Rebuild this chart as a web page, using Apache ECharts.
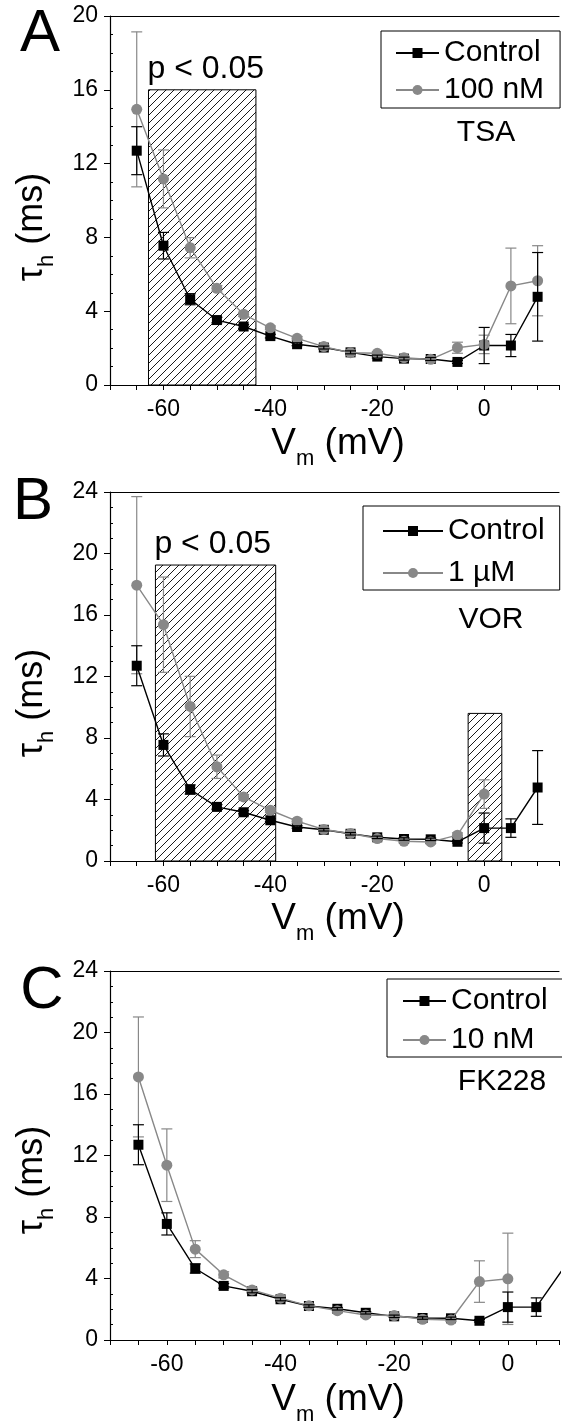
<!DOCTYPE html>
<html>
<head>
<meta charset="UTF-8">
<title>tau_h vs Vm</title>
<script src="https://cdn.jsdelivr.net/npm/echarts@6/dist/echarts.min.js"></script>
<style>
  html, body { margin: 0; padding: 0; background: #fff; }
  #main { width: 562px; height: 1426px; }
</style>
</head>
<body>
<div id="main"></div>
<script>
// membrane potential steps (mV)
const voltage = [-65, -60, -55, -50, -45, -40, -35, -30, -25, -20, -15, -10, -5, 0, 5, 10];
// control tau_h (ms), same cells in every panel
const control = [12.7, 7.55, 4.65, 3.52, 3.17, 2.65, 2.21, 2.03, 1.77, 1.54, 1.43, 1.41, 1.25, 2.14, 2.14, 4.78];
const controlErr = [1.3, 0.72, 0.3, 0.15, 0.1, 0.1, 0.08, 0.08, 0.08, 0.08, 0.08, 0.08, 0.08, 0.98, 0.6, 2.4];
// 100 nM TSA
const tsa = [14.94, 11.17, 7.44, 5.24, 3.83, 3.1, 2.53, 2.08, 1.75, 1.72, 1.48, 1.39, 2.02, 2.2, 5.37, 5.65];
const tsaErr = [4.2, 1.57, 0.55, 0.15, 0.12, 0.1, 0.1, 0.08, 0.08, 0.08, 0.08, 0.08, 0.3, 0.5, 2.05, 1.9];
// 1 uM VOR (no data above 0 mV)
const vor = [17.94, 15.37, 10.05, 6.13, 4.17, 3.3, 2.59, 2.05, 1.79, 1.46, 1.28, 1.24, 1.68, 4.35];
const vorErr = [5.76, 3.1, 1.96, 0.76, 0.15, 0.15, 0.15, 0.1, 0.1, 0.1, 0.1, 0.1, 0.15, 0.93];
// 10 nM FK228
const fk = [17.11, 11.37, 5.91, 4.24, 3.26, 2.72, 2.22, 1.91, 1.63, 1.59, 1.35, 1.3, 3.8, 3.98];
const fkErr = [3.9, 2.36, 0.55, 0.2, 0.1, 0.1, 0.1, 0.1, 0.1, 0.1, 0.1, 0.1, 1.35, 2.97];
// significance regions: [from mV, to mV, height ms, label]
const sigA = [[-62.8, -42.7, 16, 'p < 0.05']];
const sigB = [[-61.5, -39, 19.25, 'p < 0.05'], [-3, 3.3, 9.6, '']];
const sigC = [];

const FONT = "'Liberation Sans', Arial, Helvetica, sans-serif";
const GREY = '#888888';

const panels = [
  { letter: 'A', letterPos: [40, 34], top: 16, ymax: 20, xmax: 14, treat: tsa, treatErr: tsaErr, name: '100 nM', drug: 'TSA', drugPos: [486, 133],
    sig: sigA, legend: { left: 381, top: 31, itemWidth: 43, itemGap: 7, padding: [7, 16, 3, 14] }, xTitleY: 444, yTitleY: 227 },
  { letter: 'B', letterPos: [33, 502], top: 492, ymax: 24, xmax: 14, treat: vor, treatErr: vorErr, name: '1 \u00b5M', drug: 'VOR', drugPos: [491, 620],
    sig: sigB, legend: { left: 363, top: 506, itemWidth: 60, itemGap: 12, padding: [10, 15, 2, 19] }, xTitleY: 919, yTitleY: 703 },
  { letter: 'C', letterPos: [42, 991], top: 971, ymax: 24, xmax: 9, treat: fk, treatErr: fkErr, name: '10 nM', drug: 'FK228', drugPos: [502, 1082],
    sig: sigC, legend: { left: 387, top: 979, itemWidth: 43, itemGap: 9, padding: [7, 15, 2, 15] }, xTitleY: 1400, yTitleY: 1180 }
];

function hatchPattern() {
  const c = document.createElement('canvas');
  c.width = 8; c.height = 8;
  const g = c.getContext('2d');
  g.strokeStyle = '#000';
  g.lineWidth = 0.9;
  g.beginPath();
  g.moveTo(-1, 9); g.lineTo(9, -1);
  g.moveTo(-1, 1); g.lineTo(1, -1);
  g.moveTo(7, 9); g.lineTo(9, 7);
  g.stroke();
  return c;
}
const hatch = hatchPattern();

function errorBars(color) {
  return function (params, api) {
    const x = api.value(0), y = api.value(1), e = api.value(2);
    const hi = api.coord([x, y + e]);
    const lo = api.coord([x, y - e]);
    const w = 5.5;
    const st = () => ({ stroke: color, lineWidth: 1.2 });
    return {
      type: 'group',
      children: [
        { type: 'line', shape: { x1: hi[0], y1: hi[1], x2: lo[0], y2: lo[1] }, style: st() },
        { type: 'line', shape: { x1: hi[0] - w, y1: hi[1], x2: hi[0] + w, y2: hi[1] }, style: st() },
        { type: 'line', shape: { x1: lo[0] - w, y1: lo[1], x2: lo[0] + w, y2: lo[1] }, style: st() }
      ]
    };
  };
}

function hatchRects(sig) {
  return function (params, api) {
    const p0 = api.coord([api.value(0), api.value(2)]);
    const p1 = api.coord([api.value(1), 0]);
    const label = sig[params.dataIndex][3];
    return {
      type: 'group',
      children: [
        { type: 'rect', shape: { x: p0[0], y: p0[1], width: p1[0] - p0[0], height: p1[1] - p0[1] },
          style: { fill: { image: hatch, repeat: 'repeat' }, stroke: '#000', lineWidth: 1 } },
        { type: 'text', style: { text: label, x: p0[0] - 1, y: p0[1] - 21, font: '32px ' + FONT, fill: '#000',
          align: 'left', verticalAlign: 'middle', textAlign: 'left', textVerticalAlign: 'middle' } }
      ]
    };
  };
}

const pairs = (ys) => ys.map((y, i) => [voltage[i], y]);
const triples = (ys, es) => ys.map((y, i) => [voltage[i], y, es[i]]);

const grid = [], xAxis = [], yAxis = [], series = [], legend = [], graphic = [];

panels.forEach((p, k) => {
  grid.push({ left: 110, right: 0, top: p.top, height: 369 });
  xAxis.push({
    gridIndex: k, type: 'value', min: -70, max: p.xmax, interval: 5,
    axisLine: { onZero: false, lineStyle: { color: '#000', width: 1.2 } },
    axisTick: { length: 5, lineStyle: { color: '#000' } },
    axisLabel: { fontSize: 23, color: '#000', fontFamily: FONT, margin: 13,
      formatter: (v) => (v % 20 === 0 ? String(v) : '') },
    splitLine: { show: false }
  });
  xAxis.push({
    gridIndex: k, type: 'value', position: 'top', min: -70, max: p.xmax,
    axisLine: { onZero: false, lineStyle: { color: '#000', width: 1.2 } },
    axisTick: { show: false }, axisLabel: { show: false }, splitLine: { show: false }
  });
  yAxis.push({
    gridIndex: k, type: 'value', min: 0, max: p.ymax, interval: 4,
    axisLine: { onZero: false, lineStyle: { color: '#000', width: 1.2 } },
    axisTick: { length: 6, lineStyle: { color: '#000' } },
    minorTick: { show: true, splitNumber: 4, length: -3, lineStyle: { color: '#000' } },
    axisLabel: { fontSize: 23, color: '#000', fontFamily: FONT, margin: 12 },
    splitLine: { show: false }
  });
  const xi = k * 2, yi = k;

  series.push({
    type: 'custom', xAxisIndex: xi, yAxisIndex: yi, z: 1, silent: true,
    renderItem: hatchRects(p.sig), data: p.sig.map((s) => [s[0], s[1], s[2]])
  });
  series.push({
    type: 'custom', xAxisIndex: xi, yAxisIndex: yi, z: 2, clip: true, silent: true,
    renderItem: errorBars(GREY), data: triples(p.treat, p.treatErr)
  });
  series.push({
    name: 'Control', type: 'line', xAxisIndex: xi, yAxisIndex: yi, z: 3,
    symbol: 'rect', symbolSize: 10, color: '#000',
    lineStyle: { color: '#000', width: 1.4 }, itemStyle: { color: '#000' },
    data: pairs(control)
  });
  series.push({
    name: p.name, type: 'line', xAxisIndex: xi, yAxisIndex: yi, z: 4,
    symbol: 'circle', symbolSize: 11, color: GREY,
    lineStyle: { color: GREY, width: 1.4 }, itemStyle: { color: GREY },
    data: pairs(p.treat)
  });
  series.push({
    type: 'custom', xAxisIndex: xi, yAxisIndex: yi, z: 5, clip: true, silent: true,
    renderItem: errorBars('#000'), data: triples(control, controlErr)
  });

  legend.push({
    orient: 'vertical', left: p.legend.left, top: p.legend.top,
    itemWidth: p.legend.itemWidth, itemHeight: 12.5, itemGap: p.legend.itemGap,
    padding: p.legend.padding, borderColor: '#000', borderWidth: 1,
    selectedMode: false,
    textStyle: { fontSize: 30, color: '#000', fontFamily: FONT },
    data: ['Control', p.name]
  });

  graphic.push({ type: 'text', x: p.letterPos[0], y: p.letterPos[1],
    style: { text: p.letter, font: '60px ' + FONT, fill: '#000', align: 'center', verticalAlign: 'middle',
      textAlign: 'center', textVerticalAlign: 'middle' } });
  graphic.push({ type: 'text', x: p.drugPos[0], y: p.drugPos[1],
    style: { text: p.drug, font: '30px ' + FONT, fill: '#000', align: 'center', verticalAlign: 'middle',
      textAlign: 'center', textVerticalAlign: 'middle' } });
  graphic.push({ type: 'text', x: 338, y: p.xTitleY,
    style: { text: '{a|V}{s|m}{a| (mV)}', fill: '#000', align: 'center', verticalAlign: 'middle',
      textAlign: 'center', textVerticalAlign: 'middle',
      rich: { a: { fontSize: 37, fontFamily: FONT, lineHeight: 52, verticalAlign: 'middle' },
              s: { fontSize: 22, fontFamily: FONT, lineHeight: 16, verticalAlign: 'bottom' } } } });
  graphic.push({ type: 'text', x: 32, y: p.yTitleY, rotation: Math.PI / 2,
    style: { text: '{a|\u03c4}{s|h}{a| (ms)}', fill: '#000', align: 'center', verticalAlign: 'middle',
      textAlign: 'center', textVerticalAlign: 'middle',
      rich: { a: { fontSize: 36, fontFamily: FONT, lineHeight: 52, verticalAlign: 'middle' },
              s: { fontSize: 22, fontFamily: FONT, lineHeight: 16, verticalAlign: 'bottom' } } } });
});

const chart = echarts.init(document.getElementById('main'));
chart.setOption({
  animation: false,
  backgroundColor: '#fff',
  textStyle: { fontFamily: FONT },
  grid, xAxis, yAxis, series, legend, graphic
});
</script>
</body>
</html>
